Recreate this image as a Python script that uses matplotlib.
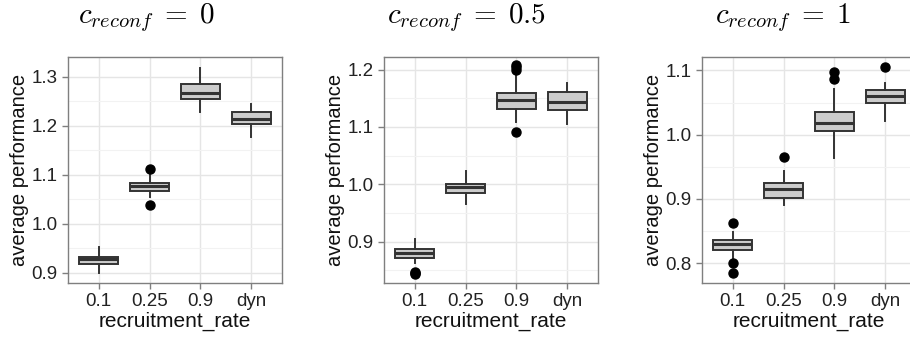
import matplotlib
matplotlib.use("Agg")
import matplotlib.pyplot as plt
from matplotlib.ticker import MultipleLocator

plt.rcParams['font.family'] = ['Liberation Sans', 'DejaVu Sans']
plt.rcParams['mathtext.fontset'] = 'cm'

categories = ["0.1", "0.25", "0.9", "dyn"]
titles = [r"$c_{reconf}\;=\;0$", r"$c_{reconf}\;=\;0.5$", r"$c_{reconf}\;=\;1$"]

# c_reconf = 0
whislo_0 = [0.899, 1.054, 1.227, 1.176]
q1_0 = [0.917, 1.066, 1.254, 1.203]
med_0 = [0.927, 1.076, 1.266, 1.214]
q3_0 = [0.933, 1.084, 1.284, 1.227]
whishi_0 = [0.952, 1.099, 1.317, 1.244]
fliers_0 = [[], [1.112, 1.039], [], []]

# c_reconf = 0.5
whislo_05 = [0.863, 0.965, 1.109, 1.106]
q1_05 = [0.871, 0.985, 1.132, 1.130]
med_05 = [0.880, 0.995, 1.147, 1.143]
q3_05 = [0.887, 1.001, 1.159, 1.161]
whishi_05 = [0.904, 1.023, 1.190, 1.176]
fliers_05 = [[0.848, 0.846, 0.844], [], [1.208, 1.204, 1.199, 1.092], []]

# c_reconf = 1
whislo_1 = [0.808, 0.891, 0.963, 1.022]
q1_1 = [0.821, 0.902, 1.005, 1.050]
med_1 = [0.829, 0.915, 1.018, 1.061]
q3_1 = [0.836, 0.924, 1.036, 1.070]
whishi_1 = [0.848, 0.944, 1.071, 1.081]
fliers_1 = [[0.863, 0.800, 0.784], [0.966], [1.097, 1.086], [1.105]]

panels = [
    (whislo_0, q1_0, med_0, q3_0, whishi_0, fliers_0, (0.879, 1.34), 0.1),
    (whislo_05, q1_05, med_05, q3_05, whishi_05, fliers_05, (0.828, 1.222), 0.1),
    (whislo_1, q1_1, med_1, q3_1, whishi_1, fliers_1, (0.769, 1.121), 0.1),
]

lefts = [68, 384, 702]
title_x = [78, 387, 715]

fig = plt.figure(figsize=(9.1, 3.39), dpi=100)

dark = "#333333"
for k, (wl, q1, med, q3, wh, fl, ylim, step) in enumerate(panels):
    ax = fig.add_axes([lefts[k] / 910, 1 - 283 / 339, 214 / 910, 226 / 339])
    stats = []
    for i in range(len(categories)):
        stats.append(dict(whislo=wl[i], q1=q1[i], med=med[i], q3=q3[i],
                          whishi=wh[i], fliers=fl[i], label=categories[i]))
    ax.bxp(stats, positions=range(1, 5), widths=0.75, patch_artist=True,
           showcaps=False,
           boxprops=dict(facecolor="#cccccc", edgecolor=dark, linewidth=1.4),
           medianprops=dict(color=dark, linewidth=2.2),
           whiskerprops=dict(color=dark, linewidth=1.4),
           flierprops=dict(marker="o", markerfacecolor="black",
                           markeredgecolor="black", markersize=6.5))
    ax.set_xlim(0.4, 4.6)
    ax.set_ylim(*ylim)
    ax.yaxis.set_major_locator(MultipleLocator(step))
    ax.yaxis.set_minor_locator(MultipleLocator(step / 2))
    ax.grid(True, which="major", color="#e5e5e5", linewidth=1.0)
    ax.grid(True, which="minor", axis="y", color="#f2f2f2", linewidth=0.8)
    ax.set_axisbelow(True)
    for s in ax.spines.values():
        s.set_color("#7f7f7f")
        s.set_linewidth(1.0)
    ax.tick_params(axis="both", which="major", colors="#7f7f7f",
                   labelcolor="#222222", labelsize=13.5, length=4, width=1.0)
    ax.tick_params(axis="y", which="minor", length=0)
    ax.set_xticks(range(1, 5))
    ax.set_xticklabels(categories)
    ax.set_xlabel("recruitment_rate", fontsize=15, color="#111111", labelpad=1)
    ax.set_ylabel("average performance", fontsize=14.5, color="#111111", labelpad=2)
    fig.text(title_x[k] / 910, 1 - 18 / 339, titles[k], fontsize=21,
             ha="left", va="center")

fig.savefig("out.png", dpi=100)
